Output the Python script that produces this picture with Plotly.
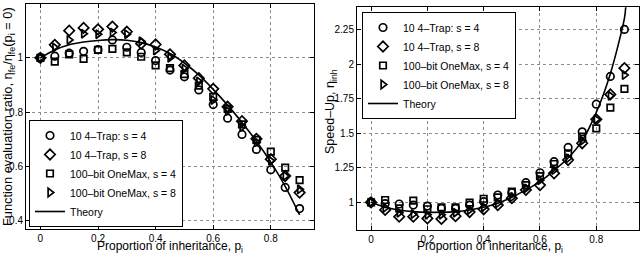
import plotly.graph_objects as go

# ---------------- data ----------------
p_inh = [0.0, 0.05, 0.1, 0.15, 0.2, 0.25, 0.3, 0.35, 0.4, 0.45,
         0.5, 0.55, 0.6, 0.65, 0.7, 0.75, 0.8, 0.85, 0.9]

# Left panel: function evaluation ratio
trap4_fe = [1.0, 1.006, 1.017, 1.024, 1.03, 1.066, 1.039, 1.02, 0.99, 0.955,
            0.93, 0.882, 0.828, 0.778, 0.718, 0.663, 0.588, 0.523, 0.445]
trap8_fe = [1.0, 1.048, 1.1, 1.11, 1.105, 1.115, 1.096, 1.052, 1.049, 1.013,
            0.972, 0.925, 0.886, 0.82, 0.767, 0.702, 0.627, 0.565, 0.504]
onemax4_fe = [1.0, 0.986, 1.013, 0.996, 1.029, 1.033, 1.02, 1.004, 0.972, 0.962,
              0.94, 0.898, 0.856, 0.812, 0.755, 0.698, 0.655, 0.596, 0.55]
onemax8_fe = [1.0, 1.038, 1.066, 1.089, 1.087, 1.093, 1.087, 1.061, 1.027, 1.0,
              0.96, 0.913, 0.845, 0.804, 0.745, 0.69, 0.621, 0.565, 0.516]
theory_fe = [1.0, 1.029, 1.048, 1.058, 1.064, 1.067, 1.065, 1.056, 1.04, 1.016,
             0.981, 0.937, 0.884, 0.826, 0.762, 0.693, 0.616, 0.527, 0.422]

# Right panel: speed-up
trap4_su = [1.0, 0.99, 0.988, 0.98, 0.973, 0.957, 0.957, 0.98, 1.005, 1.053,
            1.07, 1.142, 1.214, 1.294, 1.397, 1.51, 1.71, 1.91, 2.25]
trap8_su = [1.0, 0.945, 0.896, 0.896, 0.884, 0.88, 0.9, 0.93, 0.95, 0.98,
            1.03, 1.09, 1.125, 1.21, 1.306, 1.427, 1.6, 1.78, 1.97]
onemax4_su = [1.0, 1.017, 0.957, 1.012, 0.95, 0.964, 0.964, 0.998, 1.026, 1.036,
              1.077, 1.125, 1.19, 1.277, 1.354, 1.475, 1.535, 1.685, 1.82]
onemax8_su = [1.0, 0.96, 0.925, 0.915, 0.91, 0.91, 0.925, 0.945, 0.965, 0.993,
              1.036, 1.1, 1.16, 1.234, 1.318, 1.446, 1.6, 1.77, 1.92]
theory_su_x = p_inh + [0.905]
theory_su = [1.0, 0.964, 0.945, 0.933, 0.928, 0.928, 0.933, 0.945, 0.964, 0.993,
             1.036, 1.09, 1.15, 1.23, 1.32, 1.446, 1.65, 1.93, 2.33, 2.42]

series_names = ["10 4–Trap: s = 4", "10 4–Trap, s = 8",
                "100–bit OneMax, s = 4", "100–bit OneMax, s = 8"]
theory_name = "Theory"

# ---------------- styling ----------------
FONT = "Liberation Sans, Arial, Helvetica, sans-serif"
symbols = ["circle-open", "diamond-open", "square-open", "triangle-right-open"]
sizes = [7.5, 8, 6.5, 7.5]

fig = go.Figure()

left_series = [trap4_fe, trap8_fe, onemax4_fe, onemax8_fe]
right_series = [trap4_su, trap8_su, onemax4_su, onemax8_su]

for name, ys, sym, sz in zip(series_names, left_series, symbols, sizes):
    fig.add_trace(go.Scatter(
        x=p_inh, y=ys, mode="markers", name=name,
        marker=dict(symbol=sym, size=sz, color="black",
                    line=dict(color="black", width=1.7)),
        xaxis="x", yaxis="y", legend="legend"))
fig.add_trace(go.Scatter(
    x=p_inh, y=theory_fe, mode="lines", name=theory_name,
    line=dict(color="black", width=1.6, shape="spline", smoothing=0.8),
    xaxis="x", yaxis="y", legend="legend"))

for name, ys, sym, sz in zip(series_names, right_series, symbols, sizes):
    fig.add_trace(go.Scatter(
        x=p_inh, y=ys, mode="markers", name=name,
        marker=dict(symbol=sym, size=sz, color="black",
                    line=dict(color="black", width=1.7)),
        xaxis="x2", yaxis="y2", legend="legend2"))
fig.add_trace(go.Scatter(
    x=theory_su_x, y=theory_su, mode="lines", name=theory_name,
    line=dict(color="black", width=1.6, shape="spline", smoothing=0.8),
    xaxis="x2", yaxis="y2", legend="legend2"))

W, H = 640, 256
axis_common = dict(
    showline=True, linecolor="black", linewidth=1, mirror="ticks",
    ticks="inside", ticklen=4, tickcolor="black", tickwidth=1,
    showgrid=True, gridcolor="#8c8c8c", griddash="dot", gridwidth=1,
    zeroline=False, tickfont=dict(family=FONT, size=10, color="black"),
)

fig.update_layout(
    width=W, height=H,
    margin=dict(l=0, r=0, t=0, b=0),
    paper_bgcolor="white", plot_bgcolor="white",
    font=dict(family=FONT, size=11, color="black"),
    xaxis=dict(domain=[26 / W, 314 / W], range=[-0.05, 0.95],
               tickvals=[0, 0.2, 0.4, 0.6, 0.8], anchor="y", **axis_common),
    yaxis=dict(domain=[1 - 229 / H, 1 - 3.5 / H], range=[0.37, 1.2],
               tickvals=[0.4, 0.6, 0.8, 1.0, 1.2], anchor="x", **axis_common),
    xaxis2=dict(domain=[357 / W, 638.5 / W], range=[-0.05, 0.95],
                tickvals=[0, 0.2, 0.4, 0.6, 0.8], anchor="y2", **axis_common),
    yaxis2=dict(domain=[1 - 230 / H, 1 - 7.3 / H], range=[0.8, 2.41],
                tickvals=[1, 1.25, 1.5, 1.75, 2, 2.25],
                ticktext=["1", "1.25", "1.5", "1.75", "2", "2.25"],
                anchor="x2", **axis_common),
    legend=dict(x=29 / W, y=1 - 227 / H, xanchor="left", yanchor="bottom",
                bgcolor="white", bordercolor="black", borderwidth=1,
                font=dict(family=FONT, size=10.5, color="black"),
                tracegroupgap=0, itemwidth=30),
    legend2=dict(x=362 / W, y=1 - 12 / H, xanchor="left", yanchor="top",
                 bgcolor="white", bordercolor="black", borderwidth=1,
                 font=dict(family=FONT, size=10.5, color="black"),
                 tracegroupgap=0, itemwidth=30),
    showlegend=True,
)

title_font = dict(family=FONT, size=12, color="black")
fig.add_annotation(text="Proportion of inheritance, p<sub>i</sub>",
                   xref="paper", yref="paper", x=170 / W, y=1 - 247 / H,
                   xanchor="center", yanchor="middle", showarrow=False,
                   font=title_font)
fig.add_annotation(text="Proportion of inheritance, p<sub>i</sub>",
                   xref="paper", yref="paper", x=490 / W, y=1 - 247 / H,
                   xanchor="center", yanchor="middle", showarrow=False,
                   font=title_font)
fig.add_annotation(text="Function evaluation ratio, η<sub>fe</sub>/η<sub>fe</sub>(p<sub>i</sub> = 0)",
                   xref="paper", yref="paper", x=8 / W, y=1 - 117 / H,
                   xanchor="center", yanchor="middle", showarrow=False,
                   textangle=-90, font=dict(family=FONT, size=12.8, color="black"))
fig.add_annotation(text="Speed–Up, η<sub>inh</sub>",
                   xref="paper", yref="paper", x=331 / W, y=1 - 112 / H,
                   xanchor="center", yanchor="middle", showarrow=False,
                   textangle=-90, font=dict(family=FONT, size=12.5, color="black"))

fig.write_html("out.html",
               config={"displayModeBar": False},
               post_script="document.body.style.margin='0';document.body.style.padding='0';")
